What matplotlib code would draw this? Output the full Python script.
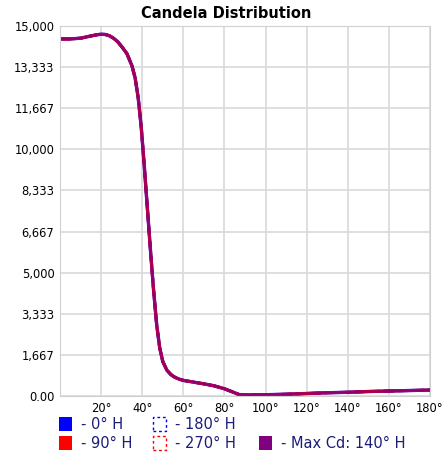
import numpy as np
import matplotlib
matplotlib.use("Agg")
import matplotlib.pyplot as plt
from matplotlib.patches import Rectangle

# angles (deg) and candela values
angles = [0, 5, 10, 15, 18, 20, 22, 24, 26, 28, 30, 32.5, 35, 36.5, 38, 39.5, 41, 42.5, 44, 45.5, 47, 48.5, 50,
          52, 54, 56, 58, 60, 65, 70, 75, 80, 84, 87, 90, 100, 110, 120, 130, 140, 150, 160, 170, 180]
cd_0 = [14470, 14470, 14500, 14590, 14640, 14660, 14650, 14600, 14500, 14360, 14160, 13880, 13380, 12900,
        12100, 10900, 9300, 7600, 5900, 4300, 2900, 1950, 1400, 1050, 870, 760, 690, 640, 570, 500, 420, 300,
        170, 70, 50, 60, 80, 110, 140, 160, 190, 210, 230, 250]
cd_90 = cd_0
cd_180 = cd_0
cd_270 = cd_0
cd_max = cd_0

yticks = [0, 1667, 3333, 5000, 6667, 8333, 10000, 11667, 13333, 15000]
ylabels = ["0.00", "1,667", "3,333", "5,000", "6,667", "8,333", "10,000", "11,667", "13,333", "15,000"]
xticks = [20, 40, 60, 80, 100, 120, 140, 160, 180]
xlabels = [f"{t}°" for t in xticks]

fig = plt.figure(figsize=(4.48, 4.70), dpi=100)
ax = fig.add_axes([0.134, 0.157, 0.826, 0.788])

ax.plot(angles, cd_0, color="blue", lw=2.4)
ax.plot(angles, cd_90, color="red", lw=2.2)
ax.plot(angles, cd_180, color="blue", lw=2, ls="--")
ax.plot(angles, cd_270, color="red", lw=2, ls="--")
ax.plot(angles, cd_max, color="#800080", lw=1.6, alpha=0.85)

ax.set_xlim(0, 180)
ax.set_ylim(0, 15000)
ax.set_xticks(xticks)
ax.set_xticklabels(xlabels, fontsize=8.3)
ax.set_yticks(yticks)
ax.set_yticklabels(ylabels, fontsize=8.3)
ax.tick_params(length=0, pad=4)
ax.grid(True, color="#d9d9d9", lw=1.2)
for s in ax.spines.values():
    s.set_color("#d0d0d0")
fig.text(226 / 448, 1 - 14 / 470, "Candela Distribution", fontsize=10.5, fontweight="bold",
         ha="center", va="center")

# legend drawn manually below the axes
W, H = 448, 470
def box(x, y, color, dashed=False):
    if dashed:
        r = Rectangle((x / W, 1 - (y + 14) / H), 13 / W, 14 / H, transform=fig.transFigure,
                      fill=False, edgecolor=color, ls=(0, (2, 2)), lw=1)
    else:
        r = Rectangle((x / W, 1 - (y + 14) / H), 13 / W, 14 / H, transform=fig.transFigure,
                      facecolor=color, edgecolor="none")
    fig.patches.append(r)

txt_color = "#1c1c7a"
items = [
    (59, 417, "blue", False, "- 0° H"),
    (153, 417, "blue", True, "- 180° H"),
    (59, 436, "red", False, "- 90° H"),
    (153, 436, "red", True, "- 270° H"),
    (259, 436, "#800080", False, "- Max Cd: 140° H"),
]
for x, y, c, d, label in items:
    box(x, y, c, d)
    fig.text((x + 22) / W, 1 - (y + 7.5) / H, label, fontsize=10.5, color=txt_color, va="center")

fig.savefig("out.png", dpi=100)
